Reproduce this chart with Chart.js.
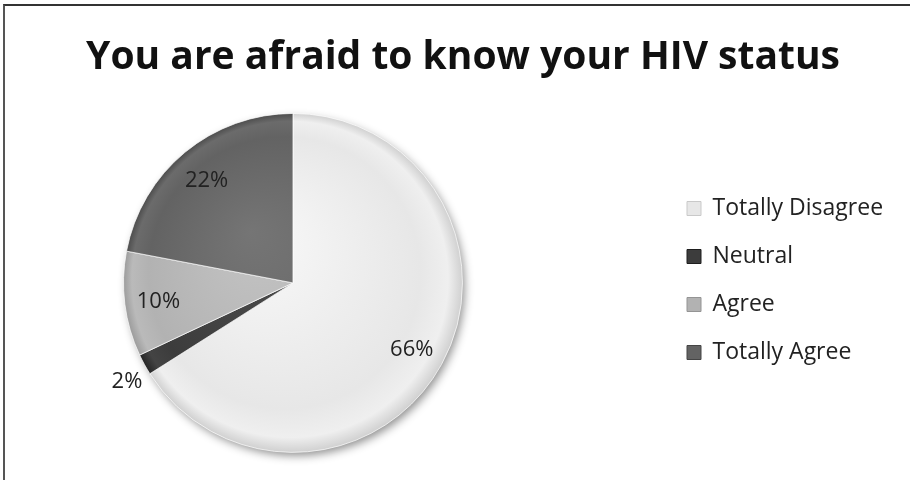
<!DOCTYPE html>
<html>
<head>
<meta charset="utf-8">
<title>HIV status survey</title>
<script src="https://cdn.jsdelivr.net/npm/chart.js@4.4.1/dist/chart.umd.min.js"></script>
<style>
  html, body { margin: 0; padding: 0; background: #fff; }
  .frame { position: relative; width: 910px; height: 480px; }
  /* thin frame on the top and left edge only */
  .frame::before {
    content: '';
    position: absolute;
    left: 3px; top: 4px; right: 0; bottom: 0;
    border-top: 2px solid #333;
    border-left: 2px solid #555;
    pointer-events: none;
  }
  canvas { display: block; }
</style>
</head>
<body>
<div class="frame">
  <canvas id="chart" width="910" height="480"></canvas>
</div>
<script>
var titleText = 'You are afraid to know your HIV status';
var answers = ['Totally Disagree', 'Neutral', 'Agree', 'Totally Agree'];
var shares = [66, 2, 10, 22];
var sliceColors = ['#e7e7e7', '#3c3c3c', '#b2b2b2', '#636363'];

var labelFont = '"Open Sans", "Noto Sans", sans-serif';

// Lighten (positive) or darken (negative) a #rrggbb colour.
function shade(hex, amount) {
    var n = parseInt(hex.slice(1), 16);
    var parts = [(n >> 16) & 255, (n >> 8) & 255, n & 255].map(function (c) {
        return Math.max(0, Math.min(255, c + amount));
    });
    return 'rgb(' + parts.join(',') + ')';
}

// Soft bevel look: light top-left, darker rim.
function sliceFill(context) {
    var chart = context.chart;
    var area = chart.chartArea;
    var base = sliceColors[context.dataIndex];
    if (!area) {
        return base;
    }
    var cx = (area.left + area.right) / 2;
    var cy = (area.top + area.bottom) / 2;
    var r = Math.min(area.right - area.left, area.bottom - area.top) / 2;
    var g = chart.ctx.createRadialGradient(cx - r * 0.25, cy - r * 0.3, 0, cx, cy, r);
    g.addColorStop(0, shade(base, 18));
    g.addColorStop(0.8, base);
    g.addColorStop(0.93, shade(base, 8));
    g.addColorStop(1, shade(base, -24));
    return g;
}

var pieDecor = {
    id: 'pieDecor',
    afterLayout: function (chart, args, opts) {
        // move the legend column over to the right-hand side of the frame
        var legend = chart.legend;
        var dx = opts.legendLeft - legend.left;
        legend.left += dx;
        legend.right += dx;
        legend.top += opts.legendShiftY;
        legend.bottom += opts.legendShiftY;
        // centre the title over the whole frame, not the padded area
        chart.titleBlock.left = 0;
        chart.titleBlock.right = opts.titleCenter * 2;
    },
    beforeDatasetsDraw: function (chart) {
        // drop shadow under the whole pie
        var arc = chart.getDatasetMeta(0).data[0];
        var ctx = chart.ctx;
        ctx.save();
        ctx.shadowColor = 'rgba(0, 0, 0, 0.45)';
        ctx.shadowBlur = 10;
        ctx.shadowOffsetX = 3;
        ctx.shadowOffsetY = 4;
        ctx.beginPath();
        ctx.arc(arc.x, arc.y, arc.outerRadius - 1, 0, Math.PI * 2);
        ctx.fillStyle = '#d0d0d0';
        ctx.fill();
        ctx.restore();
    },
    afterDatasetsDraw: function (chart) {
        var ctx = chart.ctx;
        var data = chart.data.datasets[0].data;
        var total = data.reduce(function (a, b) { return a + b; }, 0);
        ctx.save();
        ctx.font = '22px ' + labelFont;
        ctx.fillStyle = '#222';
        ctx.textAlign = 'center';
        ctx.textBaseline = 'middle';
        chart.getDatasetMeta(0).data.forEach(function (arc, i) {
            var p = arc.getProps(['x', 'y', 'startAngle', 'endAngle', 'outerRadius'], true);
            var pct = data[i] / total * 100;
            var mid = (p.startAngle + p.endAngle) / 2;
            var x, y;
            if (pct < 5) {
                // thin slices get their label just outside the rim
                x = p.x + Math.cos(mid) * (p.outerRadius + 20);
                y = p.y + Math.sin(mid) * (p.outerRadius + 20) + 8;
            } else {
                x = p.x + Math.cos(mid) * p.outerRadius * 0.8;
                y = p.y + Math.sin(mid) * p.outerRadius * 0.8 + 2;
            }
            ctx.fillText(Math.round(pct) + '%', x, y);
        });
        ctx.restore();
    }
};

new Chart(document.getElementById('chart'), {
    type: 'pie',
    data: {
        labels: answers,
        datasets: [{
            data: shares,
            backgroundColor: sliceFill,
            borderColor: 'rgba(255, 255, 255, 0.7)',
            borderWidth: 1
        }]
    },
    options: {
        responsive: false,
        animation: false,
        layout: {
            padding: {left: 123, right: 216, top: 0, bottom: 27}
        },
        plugins: {
            title: {
                display: true,
                text: titleText,
                color: '#111',
                font: {family: '"Open Sans", "Noto Sans", sans-serif', weight: 'bold', size: 39},
                padding: {top: 34, bottom: 32}
            },
            legend: {
                position: 'right',
                labels: {
                    color: '#222',
                    font: {family: labelFont, size: 23},
                    boxWidth: 14,
                    boxHeight: 14,
                    padding: 25,
                    generateLabels: function (chart) {
                        var items = Chart.overrides.pie.plugins.legend.labels.generateLabels(chart);
                        items.forEach(function (item, i) {
                            item.fillStyle = sliceColors[i];
                            item.strokeStyle = shade(sliceColors[i], -30);
                            item.lineWidth = 1;
                        });
                        return items;
                    }
                }
            },
            tooltip: {enabled: false},
            pieDecor: {legendLeft: 662, legendShiftY: 54, titleCenter: 463}
        }
    },
    plugins: [pieDecor]
});
</script>
</body>
</html>
